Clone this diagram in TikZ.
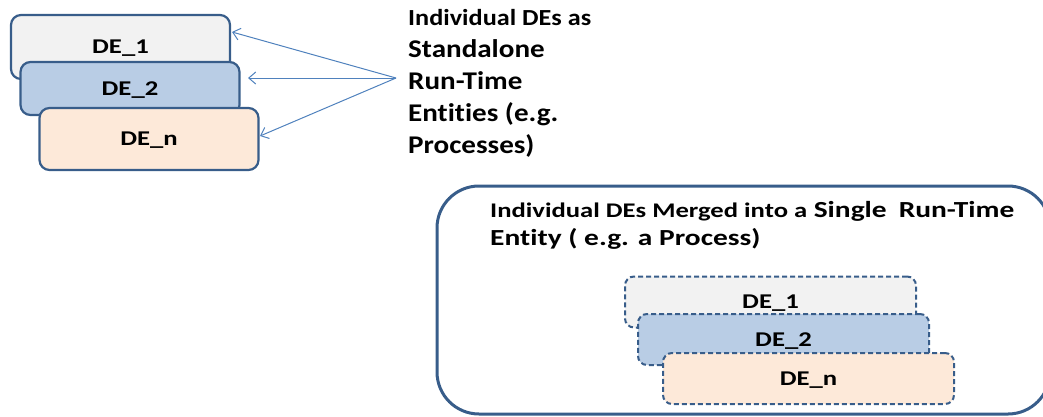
\documentclass[tikz,border=0pt]{standalone}
\usepackage{fontspec}
\setmainfont{Carlito}
\newfontfamily\defont{Carlito}[FakeStretch=1.27,Ligatures=NoCommon]
\newfontfamily\topfont{Carlito}[FakeStretch=1.14,Ligatures=NoCommon]
\newfontfamily\mergefont{Carlito}[FakeStretch=1.28,Ligatures=NoCommon]
\usetikzlibrary{positioning,arrows.meta}
\definecolor{deline}{RGB}{56,93,138}
\definecolor{dearrow}{RGB}{79,129,189}
\definecolor{degray}{RGB}{242,242,242}
\definecolor{deblue}{RGB}{185,205,229}
\definecolor{derose}{RGB}{253,233,217}
\begin{document}
\begin{tikzpicture}[x=1pt,y=-1pt,>={Straight Barb[length=7pt,width=12pt]},
debox/.style = {draw=deline, line width=2.2pt, rounded corners=10pt, minimum width=219pt, inner sep=0pt, text depth=0pt, font=\defont\fontsize{21}{24}\selectfont\bfseries},
dedash/.style = {draw=deline, line width=2pt, dash pattern=on 5pt off 3pt, rounded corners=9pt, minimum width=291pt, minimum height=51pt, inner sep=0pt, text depth=0pt, font=\defont\fontsize{21}{24}\selectfont\bfseries},
link/.style = {->, draw=dearrow, line width=1pt},]
\useasboundingbox (0,0) rectangle (1043,416);
% standalone DEs
\node (D1) at (120.5,47)[debox,fill=degray,minimum height=64pt] {DE\_1};
\node (D2) at (130,88.5)[debox,fill=deblue,minimum height=53pt] {DE\_2};
\node (Dn) at (149,139)[debox,fill=derose,minimum height=62pt] {DE\_n};
\node (T) at (408,153)[anchor=base west,align=left,inner sep=0pt,font=\topfont\fontsize{25.5}{32}\selectfont\bfseries]
  {{\fontsize{23}{32}\selectfont Individual DEs as}\\Standalone\\Run-Time\\Entities (e.g.\\Processes)};
\coordinate (S) at (396,78);
\draw[link] (S)--(232,32);
\draw[link] (S)--(248,78);
\draw[link] (S)--(260,136);
% merged DEs
\draw[draw=deline, line width=3pt, rounded corners=42pt] (437,186) rectangle (1050,414);
\node (M) at (490,245)[anchor=base west,align=left,inner sep=0pt,font=\mergefont\fontsize{23}{28}\selectfont\bfseries]
  {{\fontsize{20.8}{28}\selectfont Individual DEs Merged into a} Single\hspace{12pt}Run-Time\\Entity ( e.g. a Process)};
\node (E1) at (770.5,302)[dedash,fill=degray] {DE\_1};
\node (E2) at (783.5,339.5)[dedash,fill=deblue] {DE\_2};
\node (En) at (808.5,378.5)[dedash,fill=derose] {DE\_n};
\end{tikzpicture}
\end{document}
